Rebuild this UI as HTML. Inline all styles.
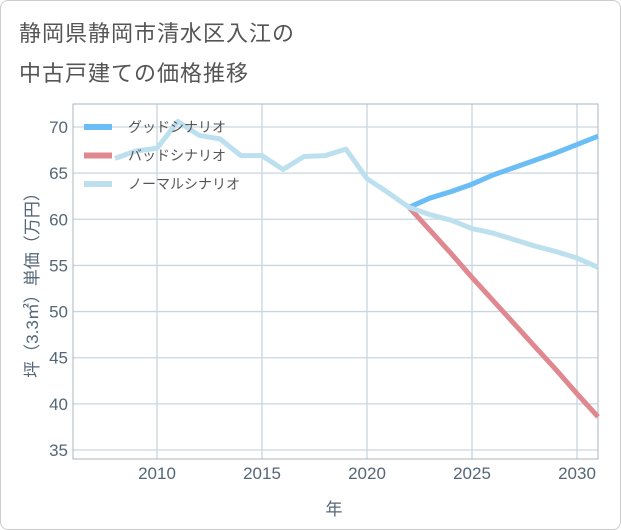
<!DOCTYPE html>
<html><head><meta charset="utf-8"><style>
body{margin:0;background:#fff;font-family:"Liberation Sans","Noto Sans CJK JP",sans-serif;}
#wrap{position:relative;width:619px;height:528px;border:1px solid #ccc;border-radius:8px;overflow:hidden;}
.t{position:absolute;left:18px;font-size:22px;color:#555;letter-spacing:1px;}
</style></head><body>
<div id="wrap">
<div class="t" style="top:15px">静岡県静岡市清水区入江の</div>
<div class="t" style="top:55px">中古戸建ての価格推移</div>
<svg id="c" width="621" height="530" style="position:absolute;left:0;top:0"></svg>
</div>
<script>
const years=[2008,2009,2010,2011,2012,2013,2014,2015,2016,2017,2018,2019,2020,2021,2022,2023,2024,2025,2026,2027,2028,2029,2030,2031];
const normal=[66.6,67.4,67.7,70.6,69.1,68.7,66.9,66.9,65.4,66.8,66.9,67.6,64.4,62.9,61.3,60.5,59.9,59.0,58.5,57.8,57.1,56.5,55.8,54.8];
const futYears=[2022,2023,2024,2025,2026,2027,2028,2029,2030,2031];
const good=[61.3,62.3,63.0,63.8,64.8,65.6,66.4,67.2,68.1,69.0];
const bad=[61.3,58.8,56.3,53.7,51.2,48.7,46.2,43.7,41.1,38.6];
const yTicks=[35,40,45,50,55,60,65,70];
const xTicks=[2010,2015,2020,2025,2030];
const L=72,R=597,T=103,B=458;
const x=v=>L+(v-2006)*(R-L)/25;
const y=v=>449+(v-35)*(126-449)/35;
const s=document.getElementById('c');const NS='http://www.w3.org/2000/svg';
function mk(t,a,p){const e=document.createElementNS(NS,t);for(const k in a)e.setAttribute(k,a[k]);(p||s).appendChild(e);return e;}
for(const v of yTicks){const g=mk('line',{x1:L,x2:R,y1:y(v),y2:y(v),stroke:'#c9d6e0','stroke-width':1.3});

const t=mk('text',{x:L-5,y:y(v)+6,'text-anchor':'end','font-size':17,fill:'#556677'});t.textContent=v;
}
for(const v of xTicks){const g=mk('line',{x1:x(v),x2:x(v),y1:T,y2:B,stroke:'#c9d6e0','stroke-width':1.3});

const t=mk('text',{x:x(v),y:B+20,'text-anchor':'middle','font-size':17,fill:'#556677'});t.textContent=v;
}
const fr=mk('rect',{x:L,y:T,width:R-L,height:B-T,fill:'none',stroke:'#aab4bd','stroke-width':1});

function line(xs,vs,c,n){const p=mk('polyline',{points:xs.map((v,i)=>x(v)+','+y(vs[i])).join(' '),fill:'none',stroke:c,'stroke-width':5,'stroke-linejoin':'round'});
}
line(futYears,bad,'#e0888f','bad-scenario-line');
line(futYears,good,'#6bbdf5','good-scenario-line');
line(years,normal,'#bde0ee','normal-scenario-line');
const leg=[['グッドシナリオ','#6bbdf5'],['バッドシナリオ','#e0888f'],['ノーマルシナリオ','#bde0ee']];
leg.forEach((l,i)=>{const yy=126+i*28.5;
const r=mk('line',{x1:83,x2:111,y1:yy,y2:yy,stroke:l[1],'stroke-width':6});

const t=mk('text',{x:127,y:yy+5,'font-size':14,fill:'#555'});t.textContent=l[0];
});
const yt=mk('text',{transform:'translate(37,280) rotate(-90)','text-anchor':'middle','font-size':17,fill:'#556677'});yt.textContent='坪（3.3㎡）単価（万円）';

const xt=mk('text',{x:333,y:514,'text-anchor':'middle','font-size':17,fill:'#556677'});xt.textContent='年';

</script>
</body></html>
